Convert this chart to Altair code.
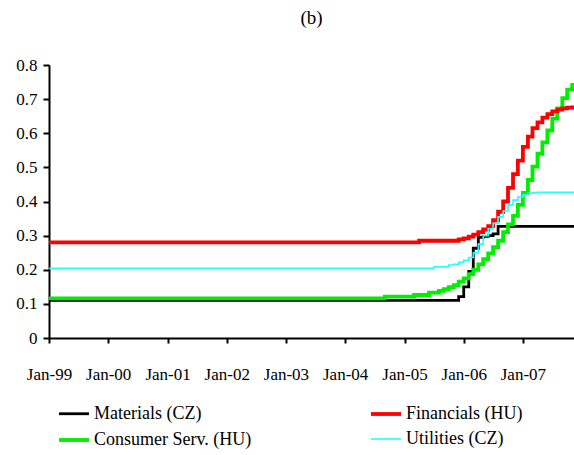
import altair as alt
import pandas as pd

# Series in legend order (two columns: first column holds the first two)
names = ["Materials (CZ)", "Consumer Serv. (HU)", "Financials (HU)", "Utilities (CZ)"]
colors = ["#000000", "#00ee00", "#ff0000", "#22ffff"]
widths = [2.8, 3.8, 3.8, 1.6]

# Value in force from Jan 1999 until the monthly readings below begin
start_values = [0.110, 0.116, 0.280, 0.204]

# Monthly readings, Sep 2004 .. Nov 2007 (39 months)
materials = [0.110, 0.110, 0.110, 0.110, 0.110, 0.110, 0.110, 0.110, 0.110, 0.110,
             0.110, 0.110, 0.110, 0.110, 0.110, 0.121, 0.150, 0.195, 0.263, 0.295,
             0.298, 0.300, 0.305, 0.327, 0.327, 0.327, 0.327, 0.327, 0.327, 0.327,
             0.327, 0.327, 0.327, 0.327, 0.327, 0.327, 0.327, 0.327, 0.327]
consumer = [0.121, 0.121, 0.121, 0.121, 0.121, 0.121, 0.126, 0.126, 0.126, 0.133,
            0.133, 0.138, 0.143, 0.149, 0.155, 0.165, 0.175, 0.187, 0.200, 0.216,
            0.231, 0.248, 0.266, 0.285, 0.310, 0.333, 0.358, 0.390, 0.425, 0.463,
            0.502, 0.540, 0.573, 0.608, 0.643, 0.673, 0.703, 0.728, 0.742]
financials = [0.280, 0.280, 0.280, 0.280, 0.280, 0.280, 0.280, 0.285, 0.285, 0.285,
              0.285, 0.285, 0.285, 0.285, 0.285, 0.289, 0.292, 0.297, 0.303, 0.310,
              0.318, 0.328, 0.345, 0.370, 0.400, 0.440, 0.480, 0.520, 0.560, 0.590,
              0.615, 0.632, 0.646, 0.656, 0.664, 0.669, 0.673, 0.675, 0.676]
utilities = [0.204, 0.204, 0.204, 0.204, 0.204, 0.204, 0.204, 0.204, 0.204, 0.204,
             0.209, 0.209, 0.209, 0.214, 0.216, 0.222, 0.228, 0.236, 0.250, 0.275,
             0.300, 0.320, 0.336, 0.355, 0.372, 0.390, 0.404, 0.413, 0.420, 0.424,
             0.426, 0.427, 0.427, 0.427, 0.427, 0.427, 0.427, 0.427, 0.427]

start_date = "1999-01-01T00:00:00"
end_date = "2007-11-12T00:00:00"
month_dates = [d.strftime("%Y-%m-%dT00:00:00")
               for d in pd.date_range("2004-09-01", periods=39, freq="MS")]
tick_years = [1999, 2000, 2001, 2002, 2003, 2004, 2005, 2006, 2007]

rows = []
for name, first, vals in zip(names, start_values,
                             [materials, consumer, financials, utilities]):
    rows.append({"date": start_date, "value": first, "series": name})
    for d, v in zip(month_dates, vals):
        rows.append({"date": d, "value": v, "series": name})
    # carry the last reading to the end of the axis
    rows.append({"date": end_date, "value": vals[-1], "series": name})
df = pd.DataFrame(rows)

FONT = "Liberation Serif"

legend = alt.Legend(
    title=None, orient="none", legendX=8, legendY=332, columns=2,
    symbolType="stroke", symbolSize=900, labelFontSize=18, labelFont=FONT,
    labelColor="black", columnPadding=111, rowPadding=0, labelOffset=3,
    labelLimit=400,
)

chart = alt.Chart(df).mark_line(interpolate="step-after").encode(
    x=alt.X(
        "date:T",
        title=None,
        scale=alt.Scale(domain=[alt.DateTime(year=1999, month=1, date=1),
                                alt.DateTime(year=2007, month=11, date=12)]),
        axis=alt.Axis(
            values=[alt.DateTime(year=y, month=1, date=1) for y in tick_years],
            format="%b-%y", labelPadding=23, tickSize=5, labelOverlap=False,
            labelFlush=False,
        ),
    ),
    y=alt.Y(
        "value:Q",
        title=None,
        scale=alt.Scale(domain=[0, 0.8]),
        axis=alt.Axis(values=[0, 0.1, 0.2, 0.3, 0.4, 0.5, 0.6, 0.7, 0.8],
                      format=".1~f", labelPadding=6, tickSize=6),
    ),
    color=alt.Color("series:N", scale=alt.Scale(domain=names, range=colors),
                    legend=legend),
    strokeWidth=alt.StrokeWidth("series:N",
                                scale=alt.Scale(type="ordinal", domain=names, range=widths),
                                legend=legend),
).properties(
    width=525,
    height=273,
    title=alt.Title("(b)", font=FONT, fontSize=19, fontWeight="normal",
                    color="black", offset=28, anchor="middle"),
    autosize=alt.AutoSizeParams(type="none"),
    padding={"left": 49, "top": 65, "right": 0, "bottom": 117},
).configure(
    font=FONT
).configure_view(
    stroke=None
).configure_axis(
    grid=False, domainColor="black", domainWidth=2, tickColor="black",
    tickWidth=2, labelFont=FONT, labelFontSize=17, labelColor="black",
)

chart.save("out.html", embed_options={"renderer": "svg", "actions": False})
